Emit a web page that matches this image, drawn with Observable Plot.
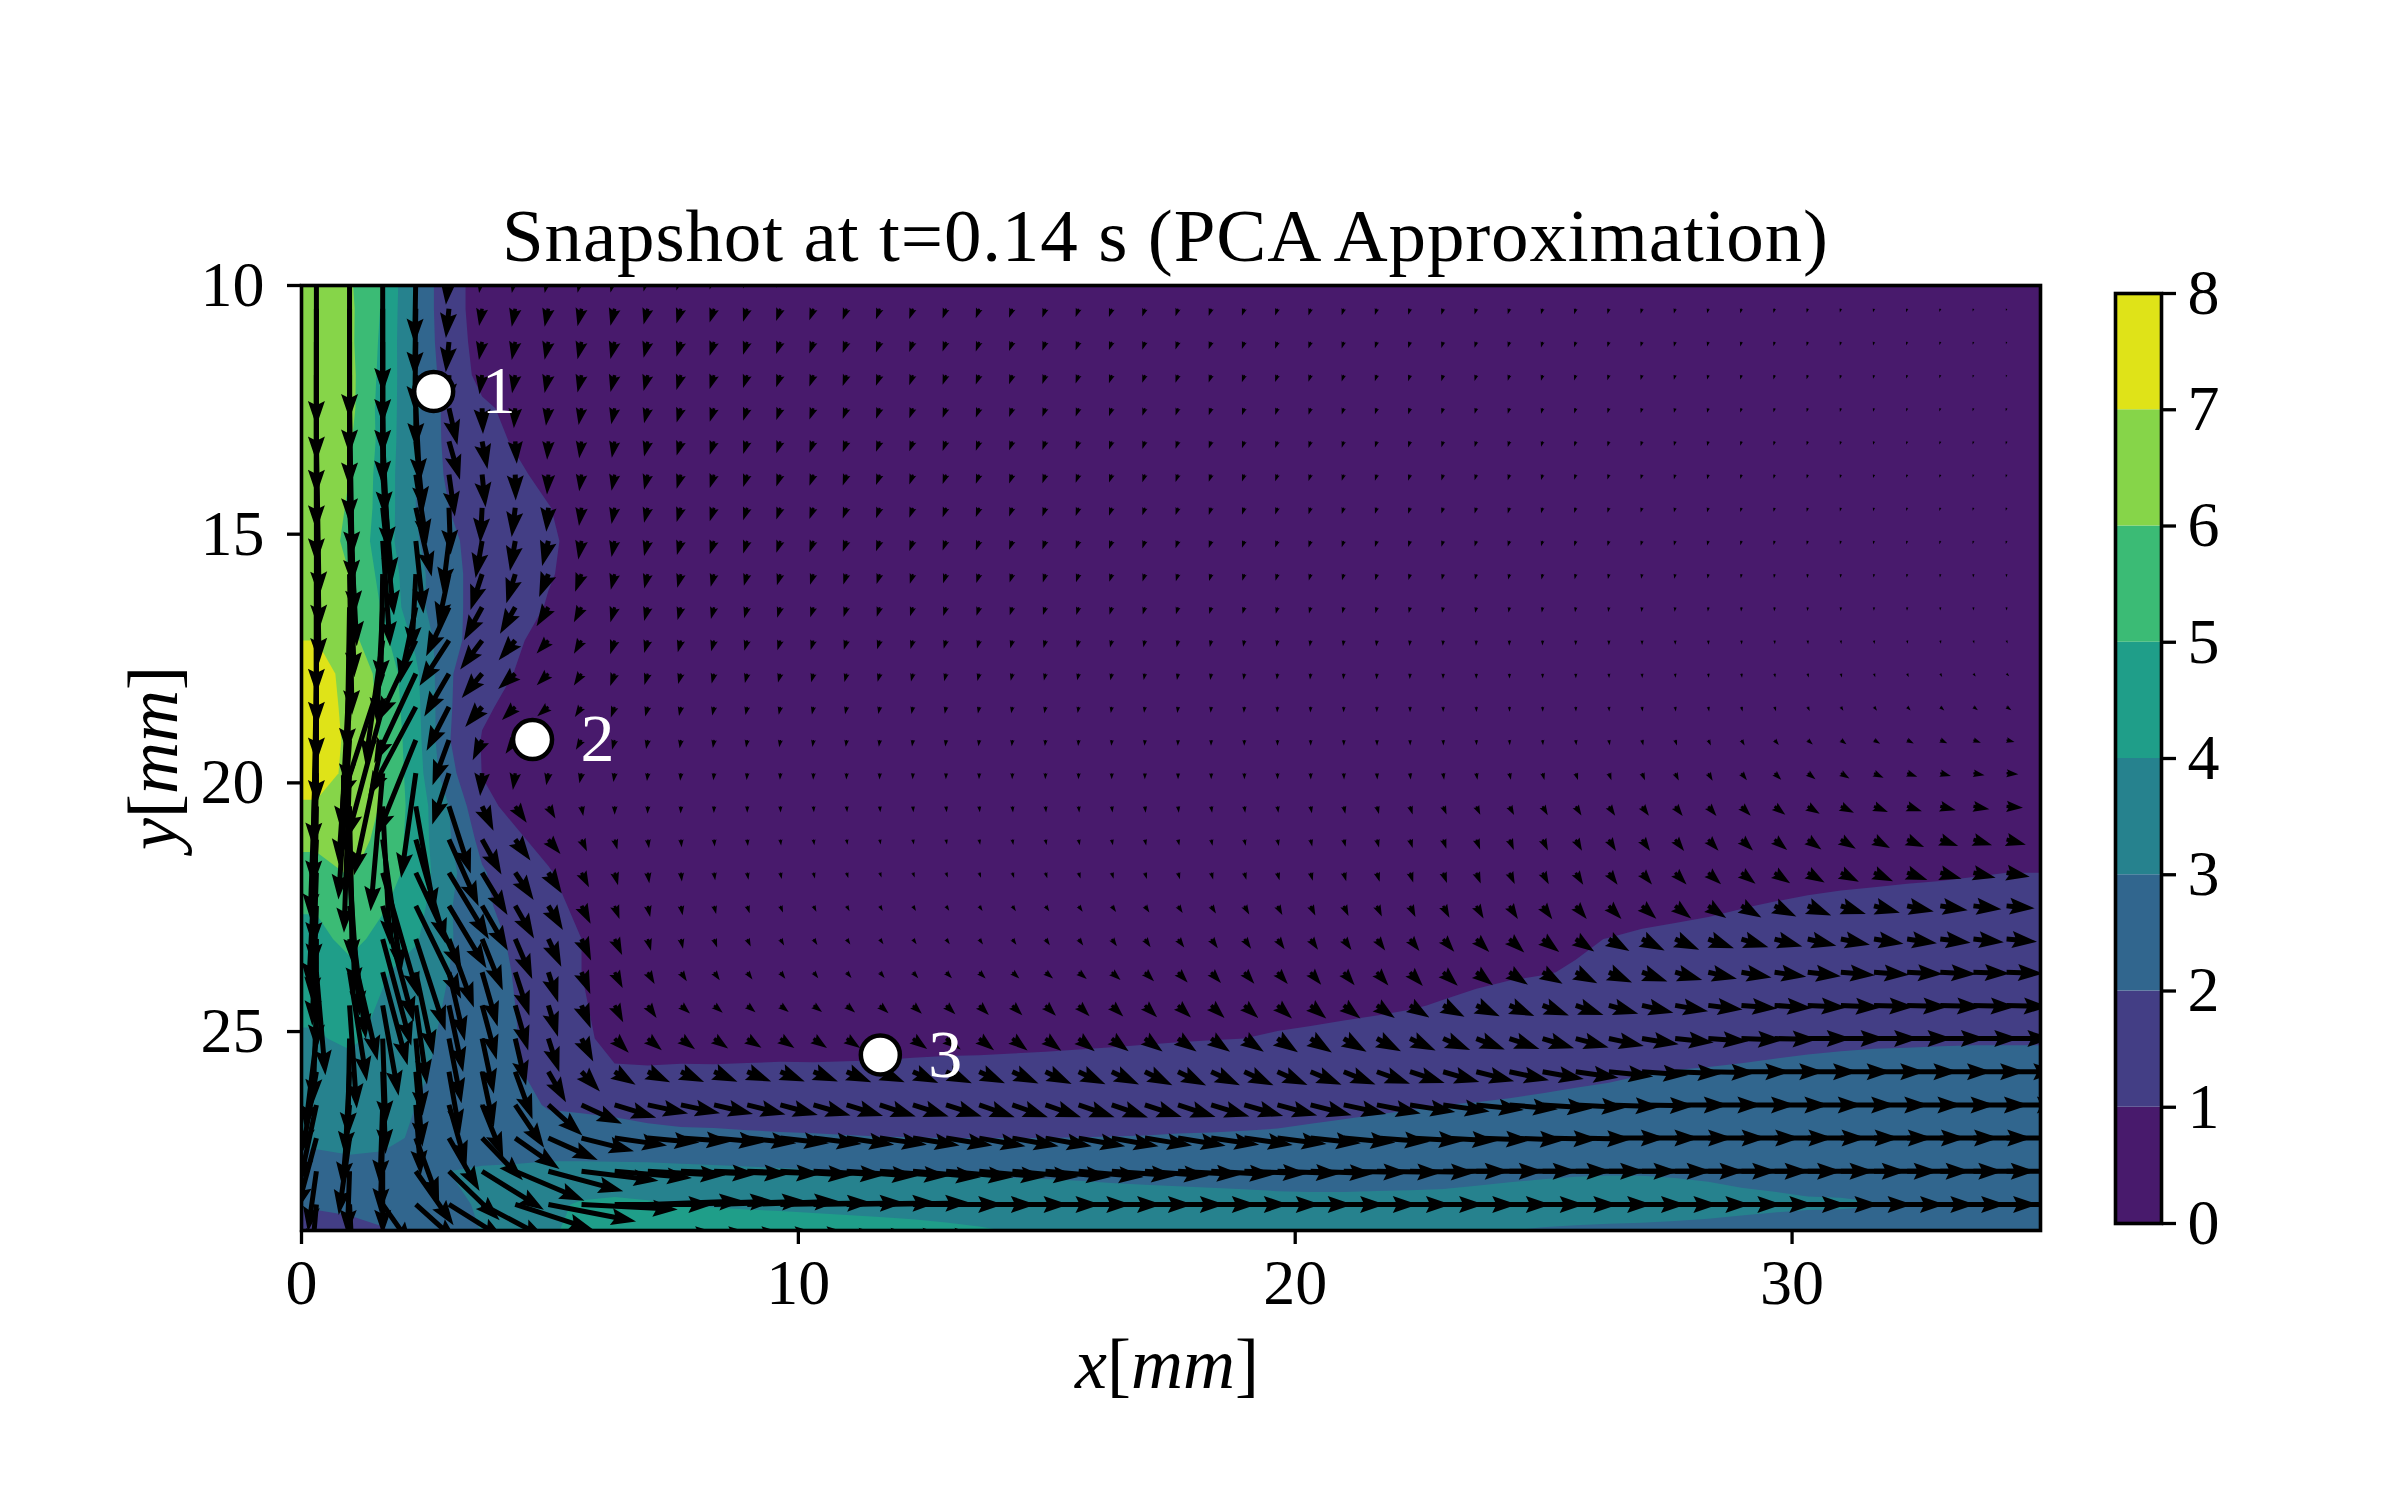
<!DOCTYPE html>
<html><head><meta charset="utf-8">
<script src="https://cdn.jsdelivr.net/npm/d3@7"></script>
<script src="https://cdn.jsdelivr.net/npm/@observablehq/plot@0.6"></script>
<style>html,body{margin:0;background:#fff}#c{position:relative;width:2400px;height:1500px}#c svg{position:absolute;left:0;top:0;background:transparent}</style>
</head><body><div id="c"></div>
<script>
const titleText="Snapshot at t=0.14 s (PCA Approximation)";
const levels=[0,1,2,3,4,5,6,7,8];
const bandColors=["#481a6c","#433e85","#31668e","#26828e","#1f9e89","#3bbb75","#86d549","#dfe318"];
const xTicks=[0,10,20,30], yTicks=[10,15,20,25];
const markerX=[2.66,4.65,11.65], markerY=[12.13,19.13,25.47], markerLabel=["1","2","3"];

// speed per grid row: first columns, then the far field
const sT1=[.62,.58,.55,.52,.5,.48,.46,.44,.43,.41,.4,.38,.37,.35,.34,.33,.32,.31,.3,.29,.28,.27,.27,.26,.25,.25,.24,.23,.22,.21,.2,.2,.19,.18,.17,.16,.15,.14,.12,.1];
const sT2=[.6,.56,.53,.51,.49,.47,.45,.43,.42,.4,.39,.37,.36,.34,.33,.32,.31,.3,.29,.28,.27,.27,.26,.25,.25,.24,.23,.22,.21,.2,.2,.19,.18,.17,.16,.15,.14,.14,.13,.13];
const speed=[
[6.4,6.1,5,2.9,1.25,.75,.76,.76,.75,.74,.7,.66,...sT1],
[6.5,6.2,4.9,2.9,1.25,.75,.78,.78,.76,.75,.7,.66,...sT1],
[6.5,6.2,4.8,2.95,1.3,.78,.78,.78,.76,.75,.7,.66,...sT1],
[6.6,6.3,4.7,3.1,1.4,.82,.78,.78,.76,.74,.7,.66,...sT1],
[6.6,6.3,4.6,3.2,1.6,1.1,.85,.75,.72,.7,.66,.63,...sT2],
[6.6,6.1,4.7,3,1.7,1.2,.95,.78,.72,.7,.66,.63,...sT2],
[6.6,6,4.6,3,1.8,1.4,1.1,.85,.72,.7,.66,.63,...sT2],
[6.6,5.9,4.6,3,2,1.5,1.25,1.02,.78,.7,.66,.63,...sT2],
[6.5,5.8,4.5,3.1,2.2,1.6,1.3,1.1,.8,.7,.66,.62,...sT2],
[6.5,6,4.7,3.3,2.3,1.6,1.3,1.05,.8,.68,.63,.6,.56,.52,.5,.48,.46,.44,.43,.41,.4,.38,.37,.36,.34,.33,.32,.31,.3,.29,.28,.27,.27,.26,.25,.24,.24,.23,.22,.21,.2,.2,.19,.18,.17,.17,.16,.15,.15,.14,.14,.13],
[6.6,6.2,4.9,3.3,2.3,1.6,1.3,.95,.72,.66,.6,.56,.52,.48,.46,.45,.43,.42,.4,.39,.38,.36,.35,.34,.33,.32,.31,.3,.29,.28,.27,.26,.26,.25,.24,.24,.23,.22,.21,.2,.2,.19,.18,.18,.17,.16,.16,.15,.15,.14,.14,.14],
[7,6.3,5.3,3.8,2.3,1.55,1.1,.75,.65,.62,.56,.52,.48,.45,.43,.42,.41,.39,.38,.37,.35,.34,.33,.32,.31,.3,.29,.28,.27,.27,.26,.25,.25,.24,.23,.22,.22,.21,.2,.2,.19,.18,.18,.17,.16,.16,.15,.15,.14,.14,.13,.13],
[7.4,6.7,5.7,4.2,2.1,1.35,.98,.7,.6,.56,.5,.46,.43,.41,.39,.38,.37,.36,.34,.33,.32,.31,.3,.29,.29,.28,.27,.27,.26,.25,.25,.24,.24,.23,.22,.22,.21,.2,.2,.19,.19,.18,.18,.18,.17,.17,.17,.16,.16,.16,.16,.16],
[7.6,6.7,5.8,4.3,2.1,1.12,.8,.62,.52,.48,.43,.4,.38,.36,.34,.33,.32,.31,.31,.3,.29,.28,.28,.27,.27,.26,.26,.25,.25,.24,.24,.23,.23,.23,.22,.22,.21,.21,.2,.2,.2,.2,.2,.2,.2,.2,.2,.21,.22,.23,.24,.25],
[7.6,6.8,5.9,4.4,2.05,.95,.72,.58,.48,.43,.39,.36,.34,.32,.31,.3,.29,.29,.28,.28,.27,.27,.26,.26,.25,.25,.25,.25,.25,.24,.24,.24,.24,.23,.23,.22,.22,.22,.23,.23,.24,.25,.26,.27,.28,.29,.3,.31,.32,.33,.34,.35],
[7.4,6.8,5.9,4.5,2.3,.98,.72,.52,.44,.38,.34,.32,.3,.29,.28,.28,.27,.27,.26,.26,.26,.26,.26,.26,.26,.26,.26,.26,.26,.26,.27,.27,.27,.27,.28,.28,.29,.3,.31,.32,.33,.35,.37,.38,.4,.42,.43,.45,.46,.47,.48,.5],
[6.9,6.7,5.9,4.6,3,1.15,.85,.6,.42,.36,.32,.3,.28,.27,.26,.25,.25,.25,.25,.25,.25,.26,.26,.26,.26,.27,.27,.27,.27,.28,.3,.32,.34,.36,.38,.4,.42,.44,.46,.48,.5,.52,.54,.56,.58,.6,.62,.64,.66,.68,.69,.7],
[6.3,6.5,5.7,4.6,3.1,1.7,1.1,.8,.55,.44,.37,.33,.3,.28,.26,.25,.23,.22,.22,.22,.23,.24,.24,.25,.25,.26,.26,.27,.27,.28,.3,.32,.35,.38,.42,.45,.48,.52,.55,.57,.6,.62,.65,.68,.7,.72,.75,.77,.79,.81,.83,.85],
[5.5,6.1,5.5,4.6,3.3,2.1,1.4,1.05,.7,.55,.45,.38,.33,.3,.27,.25,.24,.22,.22,.22,.23,.24,.25,.26,.27,.28,.29,.3,.31,.33,.35,.38,.4,.44,.47,.5,.53,.56,.6,.63,.66,.7,.73,.76,.8,.83,.86,.89,.92,.94,.97,1],
[5.1,5.7,5.1,4.4,3.1,2.2,1.6,1.2,.85,.6,.48,.41,.36,.33,.3,.28,.26,.25,.25,.25,.26,.27,.28,.3,.32,.34,.36,.38,.42,.44,.46,.48,.5,.53,.57,.62,.66,.7,.73,.77,.82,.87,.92,.98,1.03,1.08,1.12,1.14,1.16,1.18,1.2,1.2],
[4.7,5.3,4.7,4.1,3.1,2.35,1.85,1.3,1,.75,.52,.42,.38,.35,.32,.3,.28,.27,.27,.27,.28,.3,.32,.34,.38,.42,.45,.48,.5,.53,.55,.57,.6,.65,.72,.78,.85,.9,.95,1.01,1.08,1.12,1.16,1.2,1.22,1.25,1.26,1.27,1.28,1.3,1.3,1.3],
[4.4,4.7,4.1,3.6,3,2.4,1.95,1.35,1,.75,.58,.46,.42,.38,.35,.33,.32,.32,.34,.36,.38,.4,.42,.45,.5,.55,.6,.62,.65,.67,.7,.72,.75,.8,.85,.9,.95,.98,1.03,1.08,1.15,1.2,1.25,1.3,1.36,1.42,1.46,1.5,1.52,1.53,1.55,1.55],
[4.2,4.4,3.9,3.4,2.9,2.4,2,1.4,1.05,.8,.65,.52,.48,.46,.45,.46,.47,.5,.52,.55,.58,.6,.63,.66,.68,.72,.75,.78,.8,.83,.87,.9,.93,.97,1.03,1.1,1.15,1.2,1.25,1.3,1.37,1.42,1.47,1.53,1.6,1.65,1.7,1.72,1.75,1.78,1.8,1.8],
[3.9,4.2,3.7,3.3,2.8,2.4,2.05,1.5,1.1,.85,.78,.75,.73,.72,.72,.7,.7,.72,.75,.78,.8,.82,.85,.87,.9,.93,.96,.98,1,1.05,1.08,1.12,1.16,1.2,1.25,1.3,1.35,1.4,1.45,1.52,1.58,1.65,1.7,1.77,1.83,1.87,1.9,1.92,1.93,1.94,1.95,1.95],
[3.5,3.6,3.5,3.2,2.7,2.4,2.15,1.5,1.15,1.05,1.05,1.08,1.08,1.1,1.12,1.12,1.14,1.15,1.18,1.2,1.2,1.22,1.23,1.26,1.28,1.3,1.33,1.35,1.37,1.4,1.43,1.46,1.5,1.55,1.6,1.66,1.72,1.78,1.84,1.9,1.97,2.02,2.05,2.08,2.11,2.14,2.16,2.18,2.18,2.2,2.2,2.2],
[3.4,3.5,3.4,3,2.7,2.4,2.2,1.95,1.9,1.85,1.75,1.7,1.7,1.68,1.65,1.64,1.62,1.61,1.6,1.6,1.6,1.6,1.6,1.62,1.63,1.65,1.68,1.7,1.72,1.75,1.8,1.85,1.9,1.95,2,2.03,2.07,2.12,2.17,2.2,2.25,2.28,2.3,2.32,2.33,2.34,2.35,2.35,2.35,2.35,2.36,2.35],
[3.2,3.3,3.2,2.9,2.6,2.5,2.3,2.3,2.3,2.25,2.2,2.15,2.13,2.1,2.08,2.06,2.04,2.02,2.01,2,2,2,2,2.01,2.02,2.03,2.05,2.06,2.08,2.1,2.15,2.2,2.25,2.28,2.3,2.33,2.36,2.38,2.4,2.42,2.44,2.46,2.48,2.5,2.5,2.5,2.5,2.5,2.5,2.5,2.5,2.5],
[2.6,2.7,2.7,2.8,3,3.1,3.2,3.3,3.3,3.3,3.3,3.25,3.2,3.15,3.1,3.05,3,2.95,2.9,2.87,2.84,2.82,2.8,2.78,2.75,2.73,2.71,2.7,2.7,2.7,2.72,2.75,2.78,2.8,2.83,2.87,2.9,2.93,2.95,2.96,2.96,2.95,2.93,2.9,2.87,2.84,2.8,2.75,2.7,2.68,2.65,2.6],
[2.1,2.2,2.2,2.4,2.8,3.1,3.5,3.8,4.1,4.2,4.1,4,3.95,3.92,3.9,3.88,3.86,3.85,3.84,3.82,3.8,3.75,3.65,3.55,3.45,3.4,3.35,3.3,3.25,3.2,3.17,3.15,3.15,3.15,3.15,3.17,3.2,3.22,3.25,3.28,3.25,3.2,3.15,3.1,3.08,3.05,3.05,3.02,2.9,2.8,2.75,2.7],
[1.5,1.6,1.9,2.1,2.5,3,3.5,3.9,4.3,4.5,4.5,4.5,4.5,4.45,4.4,4.35,4.3,4.25,4.2,4.15,4.1,4.05,3.95,3.8,3.7,3.6,3.5,3.45,3.4,3.3,3.25,3.2,3.15,3.1,3.05,3,2.95,2.9,2.85,2.8,2.8,2.8,2.8,2.8,2.75,2.75,2.7,2.7,2.65,2.65,2.6,2.6]
];

// direction per grid row, degrees from straight down, positive toward +x
const aT=[-18,-18,-19,-20,-20,-20,-20,-20,-20,-20,-20,-20,-19,-19,-19,-19,-19,-19,-18,-18,-18,-17,-17,-17,-17,-16,-16,-16,-16,-15,-15,-15,-15,-15,-15,-15,-15,-15,-15,-15];
const aE=[88,88,87,87,86,86,85,85,85,85,85,85,86,86,87,87,88,88,88,89,89,89,90,90,90,90,90,90,90,90,90,90,90,90,90,90,90,90,90,90];
const aF=[92,92,91,91,91,91,90,90,90,90,90,90,90,90,90,90,90,90,90,90,90,90,90,90,90,90,90,90,90,90,90,90,90,90,90,90,90,90,90,90];
const angle=[
[0,0,0,-1,-6,-10,-11,-12,-13,-14,-15,-17,...aT],
[0,0,0,-1,-6,-10,-11,-12,-13,-14,-15,-17,...aT],
[0,0,0,-1,-6,-10,-11,-12,-13,-14,-15,-17,...aT],
[0,0,0,0,-3,-8,-10,-12,-13,-14,-15,-17,...aT],
[0,1,1,3,13,2,-4,-8,-10,-12,-14,-17,...aT],
[1,1,3,6,16,11,4,-4,-8,-10,-14,-17,...aT],
[1,2,5,9,8,6,1,-4,-8,-11,-14,-17,...aT],
[1,3,6,13,2,-3,-7,-5,-8,-11,-14,-17,...aT],
[0,2,4,6,-7,-10,-10,-14,-10,-11,-14,-16,...aT],
[0,1,-1,-3,-12,-18,-17,-22,-20,-14,-14,-15,-15,-16,-17,-18,-18,-18,-18,-18,-18,-18,-18,-18,-18,-18,-17,-17,-17,-17,-16,-16,-15,-15,-14,-14,-13,-12,-12,-11,-11,-10,-10,-9,-9,-8,-8,-7,-7,-6,-5,-5],
[0,-1,-3,-12,-25,-29,-30,-32,-27,-16,-15,-15,-15,-16,-17,-18,-18,-18,-18,-18,-18,-18,-18,-17,-17,-17,-17,-16,-16,-15,-15,-14,-14,-13,-12,-11,-10,-9,-8,-8,-7,-7,-6,-5,-5,-4,-3,-2,-2,-1,0,0],
[0,-1,-8,-25,-33,-37,-40,-42,-30,-18,-16,-15,-15,-16,-17,-17,-17,-17,-16,-16,-16,-15,-15,-15,-14,-13,-12,-12,-11,-10,-9,-8,-7,-6,-5,-4,-3,-2,-1,0,1,2,3,4,5,6,7,8,10,12,15,18],
[-1,-3,-18,-25,-30,-40,-48,-45,-33,-20,-17,-15,-14,-14,-15,-15,-15,-15,-14,-14,-14,-13,-13,-12,-12,-11,-10,-9,-8,-7,-6,-5,-4,-3,-2,-1,0,1,2,3,4,5,6,8,10,13,16,20,25,30,38,45],
[-1,-4,-15,-28,-27,-40,-45,-50,-33,-20,-15,-12,-12,-12,-12,-12,-12,-12,-12,-11,-11,-10,-10,-9,-9,-8,-7,-6,-5,-4,-3,-2,-1,0,0,1,1,2,3,5,6,8,10,13,18,25,32,38,43,48,52,55],
[-2,-4,-12,-22,-20,-25,-35,-40,-30,-15,-11,-9,-9,-9,-9,-9,-8,-8,-8,-7,-7,-6,-6,-5,-4,-4,-3,-2,-1,0,1,1,2,2,3,3,4,5,7,10,13,18,25,30,40,48,52,58,62,65,70,75],
[-1,-2,-5,-8,-18,-5,-8,-10,-12,-8,-6,-6,-6,-5,-4,-3,-3,-3,-3,-2,-2,-2,-2,-2,-1,-1,0,0,1,1,2,3,4,6,8,10,12,15,18,20,23,26,30,38,45,52,58,65,70,75,80,85],
[-1,1,3,10,18,25,35,30,10,0,-2,-3,-2,0,2,4,5,5,5,6,6,6,6,6,7,7,7,8,8,8,10,12,15,18,22,25,28,30,32,34,36,38,40,45,52,58,64,68,72,76,80,85],
[-3,2,8,16,24,29,36,40,25,15,8,5,5,6,7,8,9,10,10,10,10,10,11,11,11,12,12,12,12,12,13,14,15,17,19,21,23,26,29,32,35,38,42,46,50,54,58,62,66,70,73,75],
[-2,4,16,25,31,31,34,33,27,15,8,6,8,10,12,14,17,20,20,19,19,18,18,18,17,17,16,16,16,15,15,16,17,18,20,22,25,28,32,36,40,44,48,52,56,60,63,66,70,74,77,80],
[-2,7,15,26,31,30,30,31,27,20,12,10,14,18,22,26,28,30,31,32,33,34,35,35,35,34,33,32,30,28,26,25,25,26,28,30,33,36,40,44,48,52,56,60,64,68,72,75,78,81,83,85],
[0,13,15,18,20,22,23,25,24,25,15,12,20,25,30,33,34,35,35,35,35,35,35,35,35,35,36,36,35,35,35,35,36,38,41,45,48,52,56,60,63,66,70,73,75,77,79,81,82,83,84,85],
[5,9,15,12,13,16,18,18,22,27,30,33,35,36,37,38,40,40,42,44,46,48,50,50,48,45,43,42,41,41,40,40,41,43,47,52,56,60,63,66,70,74,77,80,82,83,85,86,87,87,88,88],
[-2,4,10,8,12,15,16,17,22,27,35,48,50,50,52,52,50,48,47,46,45,45,45,45,46,46,47,47,48,48,50,52,55,58,62,65,67,69,71,74,77,80,83,85,86,87,87,88,88,88,88,88],
[-7,-1,2,5,11,12,13,18,27,45,50,53,55,57,56,55,55,54,54,53,52,52,52,52,53,54,55,55,56,56,57,60,62,65,67,69,71,73,75,78,81,84,86,88,89,90,90,90,90,90,90,90],
[-10,-3,2,5,10,12,20,30,43,58,65,66,67,68,68,68,67,67,66,66,66,66,65,65,65,64,64,65,65,66,67,68,70,72,74,76,78,80,82,84,86,88,89,90,90,90,90,90,90,90,90,90],
[-12,-5,-2,4,16,22,34,48,65,73,78,78,77,76,75,74,73,72,72,72,71,71,71,71,71,72,72,73,74,75,76,78,79,81,82,84,85,86,87,88,89,90,90,90,90,90,90,90,90,90,90,90],
[-15,-8,-2,20,30,44,55,66,76,82,85,86,85,84,84,83,82,82,81,81,80,80,80,80,80,81,81,82,82,83,84,85,86,87,87,88,88,89,89,90,90,90,90,90,90,90,90,90,90,90,90,90],
[-8,-2,0,35,46,58,67,75,83,85,87,88,...aE],
[-5,3,35,48,58,62,72,79,87,90,92,92,...aF],
[0,15,35,55,65,70,78,85,90,92,92,92,...aF]
];

const nCols=52, nRows=30, dx=0.667, dy=0.667, x0=0.3, y0=9.8, pxPerUnit=23.5;

const arrows=[];
for(let j=0;j<nRows;j++)for(let k=0;k<nCols;k++)
  arrows.push({x:x0+dx*k,y:y0+dy*j,s:speed[j][k],a:angle[j][k]});

// contour field: the speed grid with its edge columns repeated up to the frame
const field=[];
for(let j=0;j<nRows;j++){const r=speed[j];field.push(r[0],...r,r[nCols-1],r[nCols-1]);}
const W=nCols+3;

const quiver={draw(ctx,l){
  const s=Math.min(1,l/25),w=2.5*s,hw=8.5*s,hl=25*s,n=22*s;
  ctx.moveTo(-w,0);ctx.lineTo(-w,-(l-n));ctx.lineTo(-hw,-(l-hl));ctx.lineTo(0,-l);
  ctx.lineTo(hw,-(l-hl));ctx.lineTo(w,-(l-n));ctx.lineTo(w,0);ctx.closePath();
}};

const FONT="'Liberation Serif',serif";
const main=Plot.plot({
  width:2400,height:1500,marginLeft:301,marginRight:360,marginTop:285,marginBottom:270,
  style:{fontFamily:FONT,background:"transparent"},
  x:{domain:[0,35],axis:null},y:{domain:[29,10],axis:null},
  color:{type:"threshold",domain:levels.slice(1,8),range:bandColors},
  length:{domain:[0,8],range:[0,8*pxPerUnit]},
  marks:[
    Plot.frame({fill:bandColors[0],stroke:"none"}),
    Plot.contour(field,{width:W,height:nRows,x1:x0-dx*1.5,x2:x0-dx*1.5+W*dx,y1:y0-dy/2,y2:y0-dy/2+nRows*dy,
      fill:Plot.identity,stroke:"none",thresholds:levels.slice(0,8),clip:true}),
    Plot.vector(arrows,{x:"x",y:"y",length:"s",rotate:d=>180-d.a,anchor:"start",shape:quiver,fill:"black",stroke:"none",clip:true}),
    Plot.frame({stroke:"black",strokeWidth:3.6}),
    Plot.axisX({ticks:xTicks,tickSize:14,tickPadding:14,fontSize:64,strokeWidth:3.3,label:null,tickFormat:d=>d,anchor:"bottom"}),
    Plot.axisY({ticks:yTicks,tickSize:14,tickPadding:23,fontSize:64,strokeWidth:3.3,label:null,tickFormat:d=>d,anchor:"left"}),
    Plot.dot(markerX.map((x,i)=>({x,y:markerY[i]})),{x:"x",y:"y",r:19.5,fill:"white",stroke:"black",strokeWidth:4.5}),
    Plot.text(markerLabel,{x:(d,i)=>markerX[i],y:(d,i)=>markerY[i],text:d=>d,dx:65,fill:"white",fontSize:68}),
    Plot.text([titleText],{frameAnchor:"top",dx:-6,dy:-49,fontSize:75,fill:"black",lineAnchor:"middle"}),
    Plot.text(["x[mm]"],{frameAnchor:"bottom",dx:-4,dy:134,fontSize:72,fill:"black",lineAnchor:"middle"}),
    Plot.text(["y[mm]"],{frameAnchor:"left",dx:-148,dy:0,rotate:-90,fontSize:72,fill:"black",textAnchor:"middle",lineAnchor:"middle"})
  ]
});
const bar=Plot.plot({
  width:2400,height:1500,marginLeft:2115,marginRight:239,marginTop:293,marginBottom:277,
  style:{fontFamily:FONT,background:"transparent"},
  x:{domain:[0,1],axis:null},y:{domain:[0,8],axis:null},
  marks:[
    Plot.rect(bandColors,{x1:0,x2:1,y1:(d,i)=>levels[i],y2:(d,i)=>levels[i+1],fill:d=>d,stroke:"none"}),
    Plot.frame({stroke:"black",strokeWidth:3.6}),
    Plot.axisY({ticks:levels,anchor:"right",tickSize:14,tickPadding:12,fontSize:64,strokeWidth:3.3,label:null,tickFormat:d=>d})
  ]
});
const c=document.getElementById("c");c.append(main,bar);
d3.select(main).selectAll("text").each(function(){
  const t=this.textContent;
  if(t==="x[mm]"||t==="y[mm]"){
    const el=d3.select(this);el.text("");
    el.append("tspan").attr("font-style","italic").text(t[0]);
    el.append("tspan").text("[");
    el.append("tspan").attr("font-style","italic").text("mm");
    el.append("tspan").text("]");
    el.attr("textLength",184).attr("lengthAdjust","spacing");
  }
  if(t===titleText){d3.select(this).attr("textLength",1326).attr("lengthAdjust","spacing");}
});
</script></body></html>
